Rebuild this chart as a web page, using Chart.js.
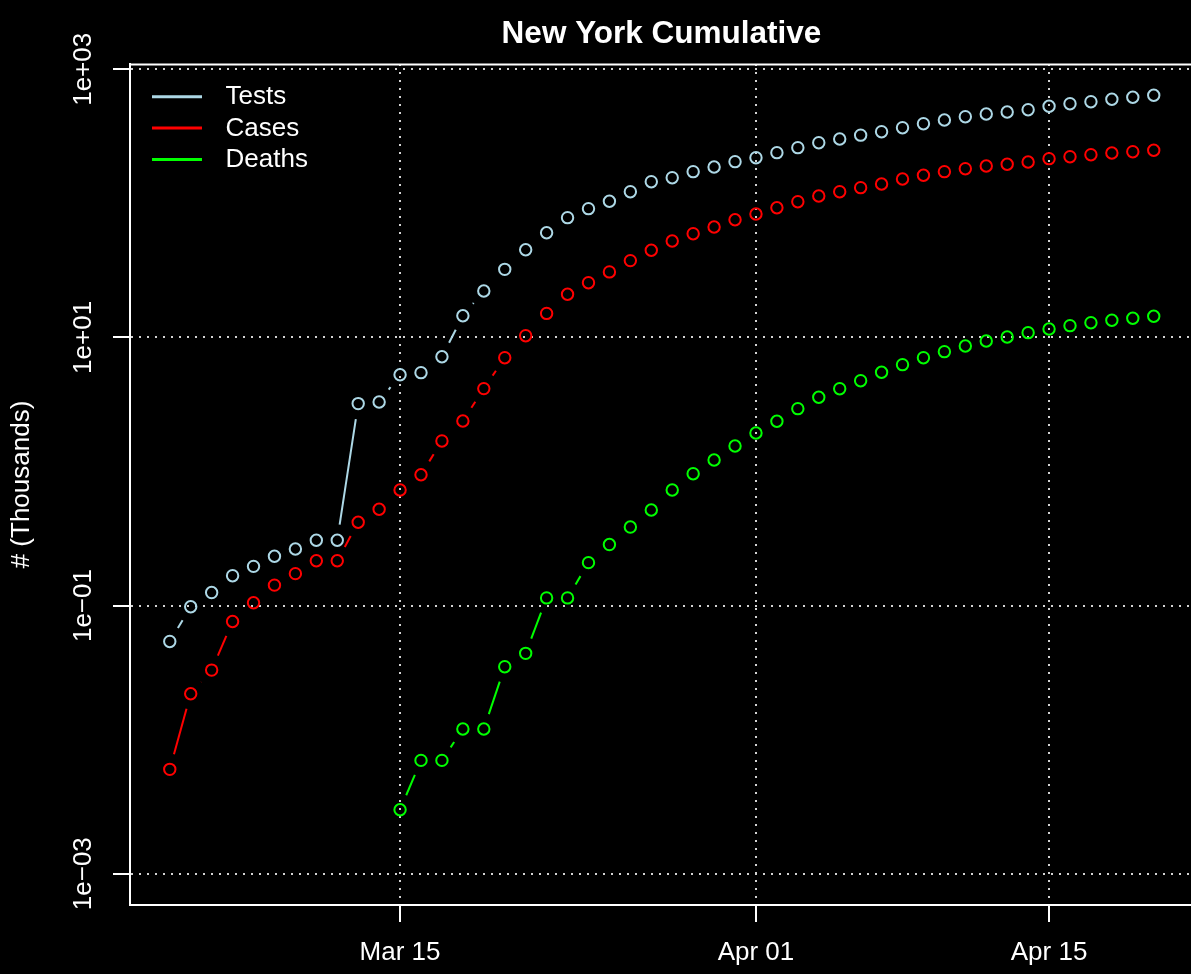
<!DOCTYPE html>
<html lang="en">
<head>
  <meta charset="UTF-8" />
  <title>New York Cumulative</title>
  <script src="https://cdn.jsdelivr.net/npm/chart.js"></script>
  <style>
    html, body {
      margin: 0;
      padding: 0;
      background-color: #000;
    }
    .chart-container {
      width: 1191px;
      height: 974px;
    }
  </style>
</head>
<body>
  <div class="chart-container">
    <canvas id="nyChart" width="1191" height="974"></canvas>
  </div>

  <script>
    // days from Mar 04 to Apr 20 (x value = index)
    const dates = [
      'Mar 04','Mar 05','Mar 06','Mar 07','Mar 08','Mar 09','Mar 10','Mar 11','Mar 12','Mar 13',
      'Mar 14','Mar 15','Mar 16','Mar 17','Mar 18','Mar 19','Mar 20','Mar 21','Mar 22','Mar 23',
      'Mar 24','Mar 25','Mar 26','Mar 27','Mar 28','Mar 29','Mar 30','Mar 31','Apr 01','Apr 02',
      'Apr 03','Apr 04','Apr 05','Apr 06','Apr 07','Apr 08','Apr 09','Apr 10','Apr 11','Apr 12',
      'Apr 13','Apr 14','Apr 15','Apr 16','Apr 17','Apr 18','Apr 19','Apr 20'
    ];

    // cumulative counts, thousands
    const tests = [
      0.054, 0.098, 0.125, 0.167, 0.196, 0.233, 0.264, 0.307, 0.307, 3.21,
      3.30, 5.27, 5.46, 7.18, 14.5, 22.2, 32.2, 45.1, 60.4, 78.2,
      91.3, 103.6, 122.2, 145.1, 155.4, 172.3, 186.7, 204.6, 219.1, 238.8,
      260.2, 283.5, 302.1, 322.5, 342.4, 366.7, 392.8, 418.6, 443.1, 464.1,
      480.3, 499.7, 529.7, 553.9, 573.2, 597.4, 618.3, 640.1
    ];
    const cases = [
      0.006, 0.022, 0.033, 0.076, 0.105, 0.142, 0.173, 0.216, 0.216, 0.418,
      0.523, 0.728, 0.946, 1.69, 2.38, 4.15, 7.06, 10.3, 15.1, 21.0,
      25.6, 30.8, 37.4, 44.7, 52.4, 59.4, 66.6, 75.5, 83.3, 92.8,
      102.9, 113.5, 122.2, 130.9, 139.5, 152.0, 162.0, 172.3, 181.4, 190.0,
      195.6, 203.5, 215.4, 222.9, 230.7, 237.5, 242.9, 248.8
    ];
    const deaths = [
      null, null, null, null, null, null, null, null, null, null,
      null, 0.003, 0.007, 0.007, 0.012, 0.012, 0.035, 0.044, 0.114, 0.114,
      0.209, 0.285, 0.385, 0.516, 0.728, 0.963, 1.219, 1.550, 1.938, 2.369,
      2.941, 3.577, 4.146, 4.757, 5.495, 6.262, 7.06, 7.83, 8.63, 9.41,
      10.08, 10.85, 11.56, 12.24, 12.88, 13.42, 13.89, 14.38
    ];

    const xTickLabels = ['Mar 15', 'Apr 01', 'Apr 15'];
    const yTickValues = [1e-3, 1e-1, 1e1, 1e3];
    const yTickLabels = ['1e\u221203', '1e\u221201', '1e+01', '1e+03'];

    const FONT = '"Liberation Sans", Arial, Helvetica, sans-serif';
    Chart.defaults.font.family = FONT;
    Chart.defaults.color = '#fff';

    const toXY = arr => arr.map((v, i) => ({ x: i, y: v }));

    // R type="b": lines with a gap around each point
    const gapLines = {
      id: 'gapLines',
      beforeDatasetsDraw(chart) {
        const ctx = chart.ctx;
        const area = chart.chartArea;
        const gap = 15.7;
        ctx.save();
        ctx.beginPath();
        ctx.rect(area.left, area.top, area.right - area.left, area.bottom - area.top);
        ctx.clip();
        chart.data.datasets.forEach((ds, di) => {
          const pts = chart.getDatasetMeta(di).data;
          ctx.strokeStyle = ds.borderColor;
          ctx.lineWidth = 2;
          for (let i = 1; i < pts.length; i++) {
            const a = pts[i - 1], b = pts[i];
            if (a.skip || b.skip) continue;
            const dx = b.x - a.x, dy = b.y - a.y;
            const d = Math.sqrt(dx * dx + dy * dy);
            if (d <= 2 * gap) continue;
            const ux = dx / d, uy = dy / d;
            ctx.beginPath();
            ctx.moveTo(a.x + ux * gap, a.y + uy * gap);
            ctx.lineTo(b.x - ux * gap, b.y - uy * gap);
            ctx.stroke();
          }
        });
        ctx.restore();
      }
    };

    // title, legend, rotated y tick labels, top frame line
    const extras = {
      id: 'extras',
      afterDraw(chart) {
        const ctx = chart.ctx;
        const area = chart.chartArea;
        const yScale = chart.scales.y;
        ctx.save();

        // top frame
        ctx.strokeStyle = '#fff';
        ctx.lineWidth = 2;
        ctx.beginPath();
        ctx.moveTo(area.left, area.top + 0.5);
        ctx.lineTo(area.right, area.top + 0.5);
        ctx.stroke();

        // title
        ctx.fillStyle = '#fff';
        ctx.font = 'bold 31.5px ' + FONT;
        ctx.textAlign = 'center';
        ctx.textBaseline = 'alphabetic';
        ctx.fillText('New York Cumulative', 661.5, 43);

        // y tick labels, rotated like R's default
        ctx.font = '26px ' + FONT;
        yTickValues.forEach((v, i) => {
          const py = yScale.getPixelForValue(v);
          ctx.save();
          ctx.translate(91, py);
          ctx.rotate(-Math.PI / 2);
          ctx.textAlign = 'center';
          ctx.textBaseline = 'alphabetic';
          ctx.fillText(yTickLabels[i], 0, 0);
          ctx.restore();
        });

        // legend
        chart.data.datasets.forEach((ds, i) => {
          const ly = 96.7 + i * 31.4;
          ctx.strokeStyle = ds.borderColor;
          ctx.lineWidth = 3;
          ctx.beginPath();
          ctx.moveTo(152, ly);
          ctx.lineTo(202, ly);
          ctx.stroke();
          ctx.fillStyle = '#fff';
          ctx.textAlign = 'left';
          ctx.textBaseline = 'middle';
          ctx.fillText(ds.label, 225.5, ly + 0.5);
        });

        ctx.restore();
      }
    };

    const pointOpts = color => ({
      borderColor: color,
      backgroundColor: 'transparent',
      pointBorderColor: color,
      pointBackgroundColor: 'transparent',
      pointRadius: 5.7,
      pointBorderWidth: 2,
      showLine: false
    });

    new Chart(document.getElementById('nyChart'), {
      type: 'line',
      data: {
        datasets: [
          Object.assign({ label: 'Tests', data: toXY(tests) }, pointOpts('#add8e6')),
          Object.assign({ label: 'Cases', data: toXY(cases) }, pointOpts('#ff0000')),
          Object.assign({ label: 'Deaths', data: toXY(deaths) }, pointOpts('#00ff00'))
        ]
      },
      options: {
        responsive: false,
        animation: false,
        devicePixelRatio: 1,
        layout: { autoPadding: false, padding: { top: 64, left: 0, right: 0, bottom: 0 } },
        plugins: {
          legend: { display: false },
          title: { display: false },
          tooltip: { enabled: false }
        },
        scales: {
          x: {
            type: 'linear',
            min: -1.90,
            max: 48.78,
            afterBuildTicks: scale => {
              scale.ticks = xTickLabels.map(l => ({ value: dates.indexOf(l) }));
            },
            afterFit: scale => { scale.height = 69; },
            ticks: {
              autoSkip: false,
              maxRotation: 0,
              minRotation: 0,
              padding: 15,
              color: '#fff',
              font: { size: 26 },
              callback: (value, index) => xTickLabels[index]
            },
            grid: {
              color: '#d3d3d3',
              lineWidth: 2,
              drawTicks: true,
              tickLength: 17,
              tickColor: '#fff',
              tickWidth: 2
            },
            border: { display: true, color: '#fff', width: 2, dash: [2, 6] }
          },
          y: {
            type: 'logarithmic',
            min: 0.000584,
            max: 1095,
            afterBuildTicks: scale => {
              scale.ticks = yTickValues.map(v => ({ value: v }));
            },
            afterFit: scale => { scale.width = 130; },
            ticks: { display: false },
            grid: {
              color: '#d3d3d3',
              lineWidth: 2,
              drawTicks: true,
              tickLength: 17,
              tickColor: '#fff',
              tickWidth: 2
            },
            border: { display: true, color: '#fff', width: 2, dash: [2, 6] },
            title: {
              display: true,
              text: '# (Thousands)',
              color: '#fff',
              font: { size: 26 },
              padding: { top: 6, bottom: 0 }
            }
          }
        }
      },
      plugins: [gapLines, extras]
    });
  </script>
</body>
</html>
